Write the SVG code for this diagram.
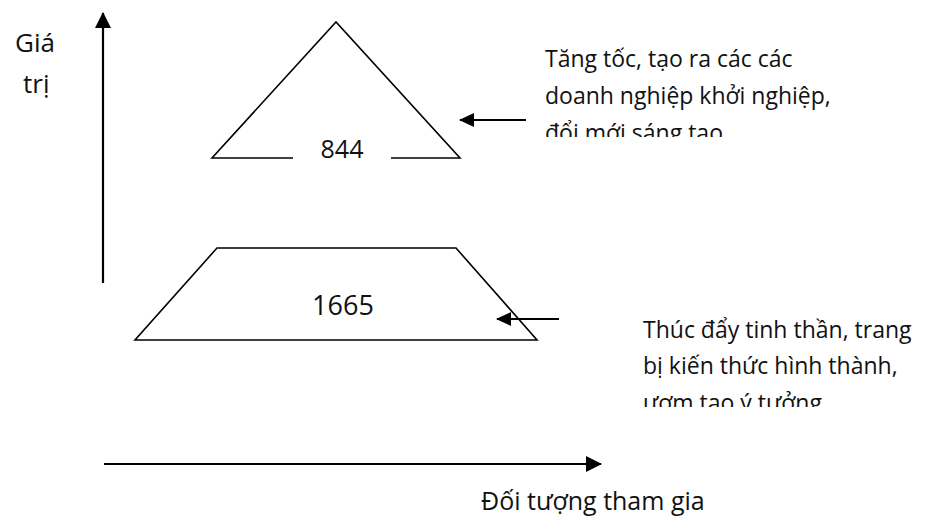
<svg xmlns="http://www.w3.org/2000/svg" width="929" height="518" viewBox="0 0 929 518">
  <style>
    .shape { fill: none; stroke: #000; stroke-width: 1.6; stroke-linejoin: miter; }
    .axis { fill: none; stroke: #000; stroke-width: 2.2; }
    .ptr { fill: none; stroke: #000; stroke-width: 2.2; }
    .lbl { font-family: "Open Sans", "Noto Sans", "Liberation Sans", sans-serif; fill: #111; }
    .axis-lbl { font-size: 26px; }
    .x-lbl { font-size: 25px; }
    .note { font-size: 23px; }
    .num { text-anchor: middle; }
  </style>
  <defs>
    <marker id="axisHead" markerUnits="userSpaceOnUse" markerWidth="16" markerHeight="16" refX="15" refY="8" orient="auto">
      <path d="M0,0 L16,8 L0,16 Z" fill="#000"/>
    </marker>
    <marker id="ptrHead" markerUnits="userSpaceOnUse" markerWidth="15" markerHeight="14" refX="14" refY="7" orient="auto">
      <path d="M0,0 L15,7 L0,14 Z" fill="#000"/>
    </marker>
    <clipPath id="clipTop"><rect x="530" y="30" width="320" height="107"/></clipPath>
    <clipPath id="clipBottom"><rect x="630" y="300" width="299" height="107"/></clipPath>
  </defs>

  <!-- axes -->
  <g id="axes">
    <line class="axis" x1="103" y1="283" x2="103" y2="13" marker-end="url(#axisHead)"/>
    <line class="axis" x1="104" y1="464" x2="601" y2="464" marker-end="url(#axisHead)"/>
    <text class="lbl axis-lbl" x="15" y="52">Giá</text>
    <text class="lbl axis-lbl" x="23" y="93">trị</text>
    <text class="lbl x-lbl" x="481" y="510">Đối tượng tham gia</text>
  </g>

  <!-- upper level: triangle -->
  <g id="level-top">
    <polyline class="shape" points="293,158 212,158 336,22 460,158 391,158"/>
    <text class="lbl num" x="342" y="158" font-size="25">844</text>
  </g>

  <!-- lower level: trapezoid -->
  <g id="level-base">
    <polygon class="shape" points="217,248 456,248 537,340 135,340"/>
    <text class="lbl num" x="343" y="315" font-size="27">1665</text>
  </g>

  <!-- notes -->
  <g id="note-top" clip-path="url(#clipTop)">
    <text class="lbl note" x="545" y="67">Tăng tốc, tạo ra các các</text>
    <text class="lbl note" x="545" y="104">doanh nghiệp khởi nghiệp,</text>
    <text class="lbl note" x="545" y="141">đổi mới sáng tạo</text>
  </g>
  <g id="note-bottom" clip-path="url(#clipBottom)">
    <text class="lbl note" x="643" y="338">Thúc đẩy tinh thần, trang</text>
    <text class="lbl note" x="643" y="374">bị kiến thức hình thành,</text>
    <text class="lbl note" x="643" y="411">ươm tạo ý tưởng</text>
  </g>

  <!-- pointers from notes to levels -->
  <g id="connectors">
    <line class="ptr" x1="526" y1="120" x2="460" y2="120" marker-end="url(#ptrHead)"/>
    <line class="ptr" x1="559" y1="319" x2="497" y2="319" marker-end="url(#ptrHead)"/>
  </g>
</svg>
